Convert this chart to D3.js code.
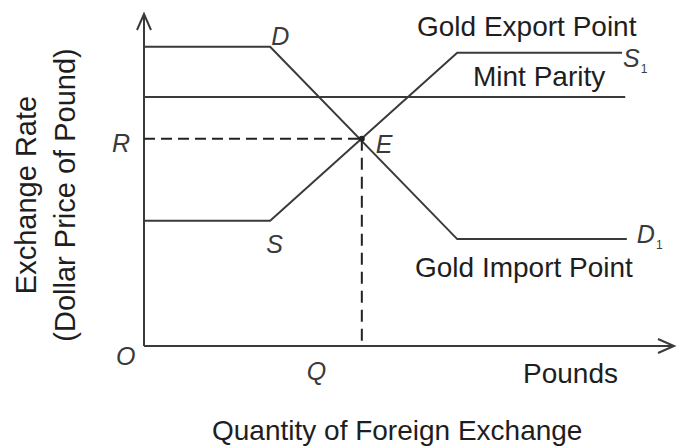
<!DOCTYPE html>
<html>
<head>
<meta charset="utf-8">
<script src="https://cdn.jsdelivr.net/npm/d3@7"></script>
<style>
  html, body { margin: 0; padding: 0; background: #fff; }
  svg { display: block; }
  text { font-family: "Liberation Sans", Arial, Helvetica, sans-serif; fill: #1e1e1e; }
  .letter { font-style: italic; fill: #3a3a3a; }
</style>
</head>
<body>
<svg id="chart" width="679" height="447"></svg>
<script>
// Schematic values (quantity on x, dollar price of pound on y), 0..100 scale
const supplyQty = [0, 23.8, 59.1, 90.2];
const supplyPrice = [37.7, 37.7, 88.3, 88.3];
const demandQty = [0, 23.8, 59.1, 91.1];
const demandPrice = [90.1, 90.1, 32.2, 32.2];
const mintParity = 75;
const mintEnd = 90.8;
const equilibrium = { q: 41.1, r: 62.4 };
const axisMax = { x: 100, y: 100 };

const svg = d3.select("#chart");
const ink = "#3a3a3a";

const x = d3.scaleLinear().domain([0, axisMax.x]).range([144, 674]);
const y = d3.scaleLinear().domain([0, axisMax.y]).range([346, 14]);

const line = d3.line().x(d => x(d[0])).y(d => y(d[1]));

// axes with open arrow heads
svg.append("path")
  .attr("d", line([[0, 0], [0, axisMax.y]]))
  .attr("stroke", ink).attr("stroke-width", 2).attr("fill", "none");
svg.append("path")
  .attr("d", line([[0, 0], [axisMax.x, 0]]))
  .attr("stroke", ink).attr("stroke-width", 2).attr("fill", "none");

const tipY = [x(0), y(axisMax.y)];
svg.append("path")
  .attr("d", `M${tipY[0] - 7},${tipY[1] + 16}L${tipY[0]},${tipY[1]}L${tipY[0] + 7},${tipY[1] + 16}`)
  .attr("stroke", ink).attr("stroke-width", 2).attr("fill", "none");
const tipX = [x(axisMax.x), y(0)];
svg.append("path")
  .attr("d", `M${tipX[0] - 16},${tipX[1] - 7}L${tipX[0]},${tipX[1]}L${tipX[0] - 16},${tipX[1] + 7}`)
  .attr("stroke", ink).attr("stroke-width", 2).attr("fill", "none");

// mint parity
svg.append("path")
  .attr("d", line([[0, mintParity], [mintEnd, mintParity]]))
  .attr("stroke", ink).attr("stroke-width", 2).attr("fill", "none");

// supply and demand curves
svg.append("path")
  .attr("d", line(d3.zip(supplyQty, supplyPrice)))
  .attr("stroke", ink).attr("stroke-width", 2).attr("fill", "none");
svg.append("path")
  .attr("d", line(d3.zip(demandQty, demandPrice)))
  .attr("stroke", ink).attr("stroke-width", 2).attr("fill", "none");

// dashed guides to R and Q
svg.append("path")
  .attr("d", line([[0, equilibrium.r], [equilibrium.q, equilibrium.r]]))
  .attr("stroke", "#222").attr("stroke-width", 2).attr("stroke-dasharray", "11,6").attr("fill", "none");
svg.append("path")
  .attr("d", line([[equilibrium.q, equilibrium.r], [equilibrium.q, 0]]))
  .attr("stroke", "#222").attr("stroke-width", 2).attr("stroke-dasharray", "12,7").attr("fill", "none");

svg.append("circle")
  .attr("cx", x(equilibrium.q)).attr("cy", y(equilibrium.r)).attr("r", 3)
  .attr("fill", "#222");

// letter labels
function letter(txt, px, py, sub) {
  const t = svg.append("text").attr("class", "letter")
    .attr("x", px).attr("y", py).attr("font-size", 25).text(txt);
  if (sub) {
    t.append("tspan").attr("font-style", "normal").attr("font-size", 12)
      .attr("dx", 1).attr("dy", 6).text(sub);
  }
}
letter("D", x(supplyQty[1]) + 1, y(demandPrice[1]) - 2);
letter("S", x(supplyQty[1]) - 4, y(supplyPrice[1]) + 32);
letter("E", x(equilibrium.q) + 14, y(equilibrium.r) + 14);
letter("R", x(0) - 32, y(equilibrium.r) + 13);
letter("O", x(0) - 28, y(0) + 19);
letter("Q", x(equilibrium.q) - 55, y(0) + 34);
letter("S", x(supplyQty[3]) + 1, y(supplyPrice[3]) + 14, "1");
letter("D", x(demandQty[3]) + 10, y(demandPrice[3]) + 4, "1");

// word labels
const words = [
  ["Gold Export Point", 417, 36],
  ["Mint Parity", 473, 86],
  ["Gold Import Point", 415, 277],
  ["Pounds", 523, 383],
  ["Quantity of Foreign Exchange", 212, 440]
];
svg.selectAll("text.word")
  .data(words)
  .enter()
  .append("text")
    .attr("class", "word")
    .attr("x", d => d[1])
    .attr("y", d => d[2])
    .attr("font-size", 28)
    .text(d => d[0]);

// y-axis title, two lines
svg.append("text")
  .attr("transform", "translate(36,195) rotate(-90)")
  .attr("text-anchor", "middle").attr("font-size", 29)
  .text("Exchange Rate");
svg.append("text")
  .attr("transform", "translate(75,195) rotate(-90)")
  .attr("text-anchor", "middle").attr("font-size", 29)
  .text("(Dollar Price of Pound)");
</script>
</body>
</html>
